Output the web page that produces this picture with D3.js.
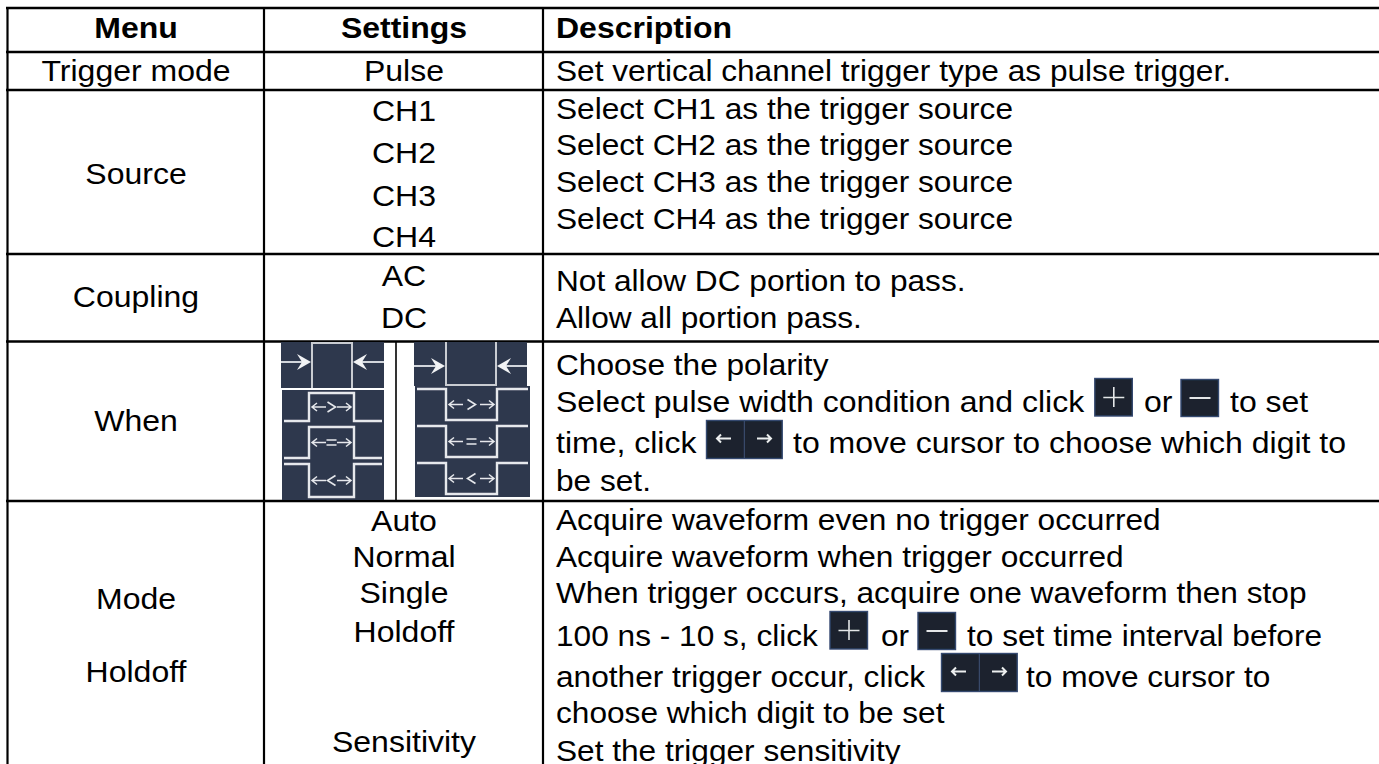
<!DOCTYPE html>
<html>
<head>
<meta charset="utf-8">
<style>
  html, body { margin: 0; padding: 0; background: #fff; overflow: hidden; }
  text { font-family: "Liberation Sans", Arial, sans-serif; fill: #000; }
</style>
<script src="https://cdn.jsdelivr.net/npm/d3@7"></script>
</head>
<body>
<div id="chart"></div>
<script>
// table content
const headers = ["Menu", "Settings", "Description"];
const menuItems = ["Trigger mode", "Source", "Coupling", "When", "Mode", "Holdoff"];
const settingItems = ["Pulse", "CH1", "CH2", "CH3", "CH4", "AC", "DC", "Auto", "Normal", "Single", "Holdoff", "Sensitivity"];
const descriptionLines = [
    ["Set vertical channel trigger type as pulse trigger."],
    ["Select CH1 as the trigger source"],
    ["Select CH2 as the trigger source"],
    ["Select CH3 as the trigger source"],
    ["Select CH4 as the trigger source"],
    ["Not allow DC portion to pass."],
    ["Allow all portion pass."],
    ["Choose the polarity"],
    ["Select pulse width condition and click", "or", "to set"],
    ["time, click", "to move cursor to choose which digit to"],
    ["be set."],
    ["Acquire waveform even no trigger occurred"],
    ["Acquire waveform when trigger occurred"],
    ["When trigger occurs, acquire one waveform then stop"],
    ["100 ns - 10 s, click", "or", "to set time interval before"],
    ["another trigger occur, click", "to move cursor to"],
    ["choose which digit to be set"],
    ["Set the trigger sensitivity"]
];

// layout
const width = 1379, height = 764;
const fontSize = 29.5;
// the text in the reference is a bit wider than it is tall
const stretchX = 1.085, descriptionStretchX = 1.072;
const wideRows = [8, 9];
const columnLines = [7.5, 264, 543];
const rowLines = [8, 52, 90, 254, 341.5, 501];
const menuCenter = 136, settingCenter = 404, textLeft = 556;
const headerBaseline = 38;
const menuBaselines = [81, 184, 307, 431, 609, 682];
const settingBaselines = [81, 121, 163, 206, 247, 286, 328, 531, 567, 603, 642, 752];
const descriptionBaselines = [81, 119, 155, 192, 229, 291, 328, 375, 412, 453, 491, 530, 567, 603, 646, 687, 723, 761];
// extra x for the pieces that follow an inline button
const segmentX = {8: [556, 1144, 1230], 9: [556, 793], 14: [556, 881, 967], 15: [556, 1026]};

const svg = d3.select("#chart").append("svg")
    .attr("width", width)
    .attr("height", height)
    .style("display", "block");

// slight softness, the icons are scaled bitmaps in the reference
const soft = svg.append("defs").append("filter").attr("id", "soft");
soft.append("feGaussianBlur").attr("stdDeviation", 0.45);

function place(x, y, sx) {
    return "translate(" + x + "," + y + ") scale(" + (sx || stretchX) + ",1)";
}

// grid lines
svg.selectAll("line.row").data(rowLines).join("line")
    .attr("class", "row")
    .attr("x1", 6).attr("x2", width)
    .attr("y1", d => d).attr("y2", d => d)
    .attr("stroke", "#000").attr("stroke-width", 2.4);

svg.selectAll("line.col").data(columnLines).join("line")
    .attr("class", "col")
    .attr("x1", d => d).attr("x2", d => d)
    .attr("y1", 7).attr("y2", height)
    .attr("stroke", "#000").attr("stroke-width", 2.2);

// divider between the two picture columns
svg.append("line")
    .attr("x1", 396).attr("x2", 396).attr("y1", 341).attr("y2", 501)
    .attr("stroke", "#000").attr("stroke-width", 1.6);

// header
const headerX = [menuCenter, settingCenter, textLeft];
svg.selectAll("text.head").data(headers).join("text")
    .attr("class", "head")
    .attr("transform", (d, i) => place(headerX[i], headerBaseline))
    .attr("text-anchor", (d, i) => i < 2 ? "middle" : "start")
    .attr("font-size", fontSize)
    .attr("font-weight", "bold")
    .text(d => d);

svg.selectAll("text.menu").data(menuItems).join("text")
    .attr("class", "menu")
    .attr("transform", (d, i) => place(menuCenter, menuBaselines[i]))
    .attr("text-anchor", "middle")
    .attr("font-size", fontSize)
    .text(d => d);

svg.selectAll("text.setting").data(settingItems).join("text")
    .attr("class", "setting")
    .attr("transform", (d, i) => place(settingCenter, settingBaselines[i]))
    .attr("text-anchor", "middle")
    .attr("font-size", fontSize)
    .text(d => d);

descriptionLines.forEach(function(parts, row) {
    const sx = wideRows.includes(row) ? stretchX : descriptionStretchX;
    parts.forEach(function(part, i) {
        svg.append("text")
            .attr("transform", place(segmentX[row] ? segmentX[row][i] : textLeft, descriptionBaselines[row], sx))
            .attr("font-size", fontSize)
            .text(part);
    });
});

// inline buttons
function buttonBox(x, y, w, h) {
    const g = svg.append("g")
        .attr("transform", "translate(" + x + "," + y + ")")
        .attr("filter", "url(#soft)");
    g.append("rect")
        .attr("x", 0.5).attr("y", 0.5)
        .attr("width", w - 1).attr("height", h - 1)
        .attr("fill", "#1b232d").attr("stroke", "#34486f").attr("stroke-width", 1.4);
    return g;
}

function plusButton(x, y) {
    const g = buttonBox(x, y, 38.5, 38.5);
    g.append("path").attr("d", "M9 19.5H30M19.5 9V29")
        .attr("stroke", "#e4e6e8").attr("stroke-width", 1.6).attr("fill", "none");
}

function minusButton(x, y) {
    const g = buttonBox(x, y, 38.5, 38);
    g.append("path").attr("d", "M9 19H30")
        .attr("stroke", "#e4e6e8").attr("stroke-width", 2).attr("fill", "none");
}

function arrowsButton(x, y) {
    const g = buttonBox(x, y, 76.7, 39);
    g.append("line").attr("x1", 38.3).attr("x2", 38.3).attr("y1", 1).attr("y2", 38)
        .attr("stroke", "#3f5278").attr("stroke-width", 1);
    g.append("path").attr("d", "M11 18.5H25M15 14.5L11 18.5L15 22.5M51 18.5H65M61 14.5L65 18.5L61 22.5")
        .attr("stroke", "#eceeef").attr("stroke-width", 2).attr("fill", "none");
}

plusButton(1094.3, 378);
minusButton(1180.5, 379);
arrowsButton(706, 420);
plusButton(829.5, 611);
minusButton(917.5, 612);
arrowsButton(941, 653);

// waveform pictures in the When row
const waveBlue = "#2f394e", waveLine = "#e6e8ec";

function iconBox(x, y, w, h) {
    const g = svg.append("g")
        .attr("transform", "translate(" + x + "," + y + ")")
        .attr("filter", "url(#soft)");
    g.append("rect").attr("width", w).attr("height", h).attr("fill", waveBlue);
    return g;
}

// top icon: pulse edges with two arrows pointing in
function polarityIcon(x, y, w, h, e1, e2, positive) {
    const g = iconBox(x, y, w, h);
    const lineD = positive
        ? "M" + e1 + " " + h + "V1H" + e2 + "V" + h
        : "M" + e1 + " 0V" + (h - 1) + "H" + e2 + "V0";
    g.append("path").attr("d", lineD).attr("fill", "none").attr("stroke", "#c9ccd2").attr("stroke-width", 2);
    const ay = positive ? 20 : 24;
    g.append("path").attr("d", "M0 " + ay + "H" + (e1 - 3)).attr("stroke", waveLine).attr("stroke-width", 1.8);
    g.append("path").attr("d", "M" + (e2 + 3) + " " + ay + "H" + w).attr("stroke", waveLine).attr("stroke-width", 1.8);
    g.append("path").attr("d", "M" + (e1 - 15) + " " + (ay - 8) + "L" + (e1 - 1) + " " + ay + "L" + (e1 - 15) + " " + (ay + 8) + "L" + (e1 - 10) + " " + ay + "Z").attr("fill", "#f2f3f5");
    g.append("path").attr("d", "M" + (e2 + 15) + " " + (ay - 8) + "L" + (e2 + 1) + " " + ay + "L" + (e2 + 15) + " " + (ay + 8) + "L" + (e2 + 10) + " " + ay + "Z").attr("fill", "#f2f3f5");
}

// condition icon: a pulse with <-sign-> inside
function conditionIcon(x, y, w, h, e1, e2, up, sign) {
    const g = iconBox(x, y, w, h);
    const top = 3, bottom = h - 3, mid = (top + bottom) / 2;
    const d = up
        ? "M2 " + bottom + "H" + e1 + "V" + top + "H" + e2 + "V" + bottom + "H" + (w - 2)
        : "M2 " + top + "H" + e1 + "V" + bottom + "H" + e2 + "V" + top + "H" + (w - 2);
    g.append("path").attr("d", d).attr("fill", "none").attr("stroke", waveLine).attr("stroke-width", 2.4);
    g.append("path")
        .attr("d", "M" + (e1 + 3) + " " + mid + "H" + (e1 + 17) + "M" + (e1 + 8) + " " + (mid - 4) + "L" + (e1 + 3) + " " + mid + "L" + (e1 + 8) + " " + (mid + 4)
            + "M" + (e2 - 17) + " " + mid + "H" + (e2 - 3) + "M" + (e2 - 8) + " " + (mid - 4) + "L" + (e2 - 3) + " " + mid + "L" + (e2 - 8) + " " + (mid + 4))
        .attr("fill", "none").attr("stroke", waveLine).attr("stroke-width", 1.5);
    const c = (e1 + e2) / 2;
    const signD = sign === ">" ? "M" + (c - 4) + " " + (mid - 5) + "L" + (c + 4) + " " + mid + "L" + (c - 4) + " " + (mid + 5)
        : sign === "<" ? "M" + (c + 4) + " " + (mid - 5) + "L" + (c - 4) + " " + mid + "L" + (c + 4) + " " + (mid + 5)
        : "M" + (c - 5) + " " + (mid - 2.5) + "H" + (c + 5) + "M" + (c - 5) + " " + (mid + 2.5) + "H" + (c + 5);
    g.append("path").attr("d", signD).attr("fill", "none").attr("stroke", waveLine).attr("stroke-width", 1.6);
}

polarityIcon(281, 342, 103, 46, 31, 71, true);
conditionIcon(282, 390, 102, 34, 27, 72, true, ">");
conditionIcon(282, 424, 102, 37, 27, 72, true, "=");
conditionIcon(282, 461, 102, 39, 27, 72, false, "<");
polarityIcon(414, 342, 113, 44, 32, 82, false);
conditionIcon(415, 386, 115, 37, 31, 82, false, ">");
conditionIcon(415, 423, 115, 37, 31, 82, false, "=");
conditionIcon(415, 460, 115, 37, 31, 82, false, "<");
</script>
</body>
</html>
